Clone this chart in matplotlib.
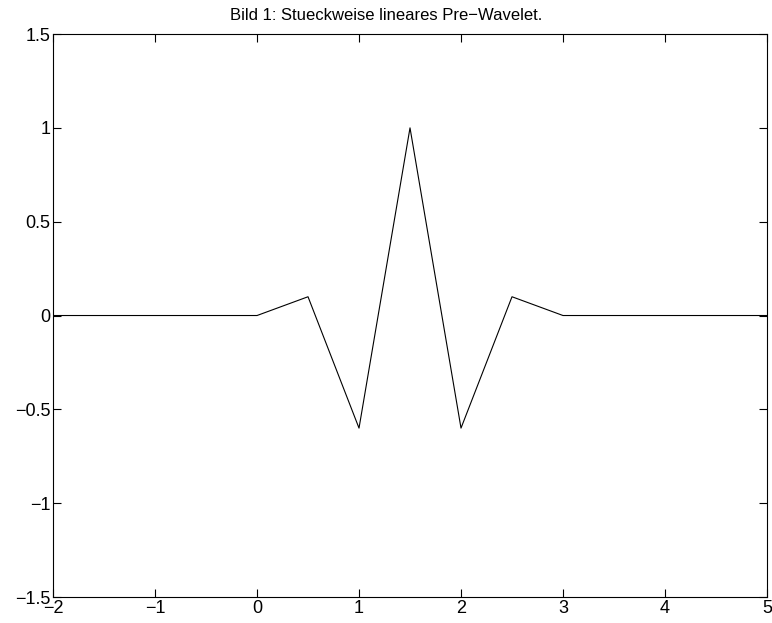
import matplotlib
matplotlib.use("Agg")
from matplotlib import pyplot as plt

plt.rcParams['font.family'] = ['Liberation Sans', 'DejaVu Sans']

# knots of the piecewise linear pre-wavelet
x = [-2, 0, 0.5, 1, 1.5, 2, 2.5, 3, 5]
y = [0, 0, 0.1, -0.6, 1, -0.6, 0.1, 0, 0]
xticks = [-2, -1, 0, 1, 2, 3, 4, 5]
yticks = [-1.5, -1, -0.5, 0, 0.5, 1, 1.5]

def lab(t):
    return ("%g" % t).replace("-", "\u2212")

fig = plt.figure(figsize=(7.72, 6.23), dpi=100)
ax = fig.add_axes([0.0687, 0.0417, 0.9248, 0.9037])

ax.plot(x, y, color="black", linewidth=0.8)
ax.set_xlim(-2, 5)
ax.set_ylim(-1.5, 1.5)
ax.set_xticks(xticks)
ax.set_yticks(yticks)
ax.set_xticklabels([lab(t) for t in xticks])
ax.set_yticklabels([lab(t) for t in yticks])
ax.tick_params(direction="in", length=6, width=0.8, labelsize=13,
               top=True, right=True, pad=2)
for s in ax.spines.values():
    s.set_linewidth(0.8)
ax.set_title("Bild 1: Stueckweise lineares Pre\u2212Wavelet.", fontsize=12, pad=10, x=0.466)

fig.savefig("out.png", dpi=100)
